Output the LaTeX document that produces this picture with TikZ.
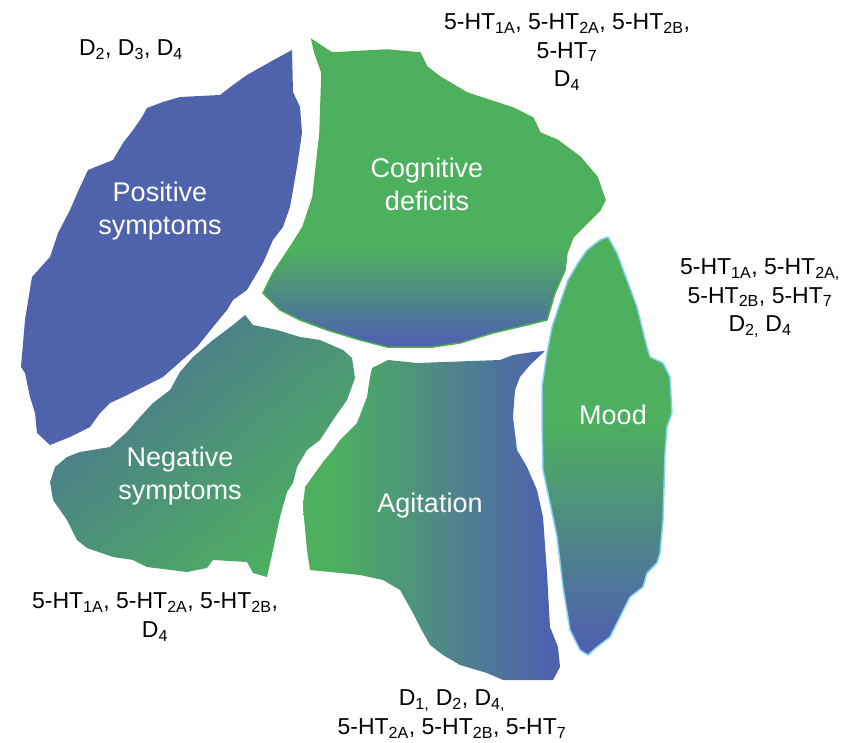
\documentclass[tikz,border=0pt]{standalone}
\usepackage{fontspec}
\setmainfont{Liberation Sans}
\definecolor{psyblue}{HTML}{4F63AD}
\definecolor{psygreen}{HTML}{4DB05E}
\definecolor{negteal}{HTML}{4C7494}
\definecolor{cogline}{HTML}{4CB050}
\definecolor{moodline}{HTML}{86D2F4}
\pgfdeclareverticalshading{cogshade}{100bp}{color(0bp)=(psyblue); color(26bp)=(psyblue); color(41bp)=(psygreen); color(100bp)=(psygreen)}
\pgfdeclareverticalshading{moodshade}{100bp}{color(0bp)=(psyblue); color(27bp)=(psyblue); color(53bp)=(psygreen); color(100bp)=(psygreen)}
\pgfdeclarehorizontalshading{agishade}{100bp}{color(0bp)=(psygreen); color(31bp)=(psygreen); color(72bp)=(psyblue); color(100bp)=(psyblue)}
\newcommand{\rsub}[1]{\textsubscript{#1}}
\tikzset{
	wlabel/.style={text=white, align=center, inner sep=0pt, font=\fontsize{27}{33}\selectfont},
	rlabel/.style={text=black, align=center, inner sep=0pt, font=\fontsize{23}{28.5}\selectfont}
}
\begin{document}
\begin{tikzpicture}[x=1pt,y=-1pt]%vùng
	\useasboundingbox (0,0) rectangle (851,743);
	%Positive
	\fill[psyblue] (292,50)--(270,62)--(247,75)--(233,85)--(220,95)--(180,97)--(163,102)--(147,108)--(142,117)--(133,130)--(123,143)--(113,160)--(88,170)--(80,187)--(70,210)--(58,233)--(50,257)--(40,268)--(32,277)--(25,320)--(21,367)--(25,373)--(30,397)--(35,413)--(37,433)--(50,445)--(70,437)--(90,427)--(100,413)--(110,403)--(123,397)--(143,387)--(163,377)--(180,362)--(197,347)--(213,327)--(227,310)--(233,300)--(247,290)--(263,263)--(273,240)--(283,227)--(290,207)--(297,167)--(302,133)--(300,107)--(293,92)--cycle;
	%Cognitive
	\shade[shading=cogshade, draw=cogline, line width=1.5pt] (312,40)--(332,53)--(387,50)--(420,53)--(427,67)--(440,77)--(467,93)--(513,108)--(533,118)--(540,133)--(557,140)--(580,157)--(597,177)--(605,200)--(600,210)--(587,223)--(573,237)--(567,253)--(565,270)--(555,293)--(547,320)--(527,325)--(493,333)--(460,343)--(433,347)--(387,347)--(360,340)--(327,330)--(300,320)--(280,310)--(263,293)--(273,273)--(293,243)--(303,227)--(313,197)--(320,133)--(322,73)--(315,53)--cycle;
	%Negative
	\shade[top color=negteal, bottom color=psygreen, shading angle=40] (245,315)--(253,325)--(277,330)--(300,337)--(320,340)--(343,350)--(352,358)--(355,378)--(347,400)--(333,420)--(320,440)--(307,450)--(297,467)--(293,483)--(287,492)--(280,517)--(273,550)--(267,577)--(253,573)--(247,562)--(213,560)--(207,568)--(187,572)--(147,567)--(133,560)--(113,557)--(87,548)--(77,540)--(67,520)--(53,500)--(50,482)--(55,467)--(67,457)--(80,452)--(110,447)--(127,432)--(140,417)--(153,403)--(170,390)--(180,372)--(193,357)--(213,340)--(233,325)--cycle;
	%Agitation
	\shade[shading=agishade] (372,368)--(388,360)--(417,363)--(500,360)--(513,355)--(533,352)--(545,351)--(530,365)--(520,377)--(515,390)--(513,417)--(517,450)--(527,467)--(537,490)--(543,517)--(547,573)--(550,627)--(558,647)--(560,667)--(553,680)--(503,680)--(487,673)--(460,665)--(443,655)--(430,645)--(420,627)--(413,613)--(400,590)--(383,580)--(360,575)--(310,570)--(307,550)--(303,507)--(305,487)--(323,462)--(333,450)--(340,440)--(357,423)--(367,397)--(370,377)--cycle;
	%Mood
	\shade[shading=moodshade, draw=moodline, line width=1.5pt] (608,237)--(617,253)--(627,280)--(637,307)--(647,347)--(650,357)--(663,363)--(670,377)--(672,413)--(667,427)--(665,453)--(663,520)--(660,553)--(657,563)--(647,573)--(643,587)--(630,597)--(620,617)--(610,637)--(597,647)--(588,655)--(580,650)--(570,630)--(563,587)--(557,537)--(550,503)--(543,470)--(542,420)--(542,387)--(547,353)--(552,327)--(560,303)--(568,280)--(578,263)--(587,250)--(600,240)--cycle;
	\foreach \n/\x/\y/\t in {pos/160/211/{Positive\\symptoms}, cog/427/184/{Cognitive\\deficits}, neg/180/476/{Negative\\symptoms}, agi/430/506/{Agitation}, mood/613/415/{Mood}}
	\node[wlabel] (\n) at (\x,\y) {\t};
	%Rezeptoren
	\node[rlabel] (recpos) at (131,50) {D\rsub{2}, D\rsub{3}, D\rsub{4}};
	\node[rlabel] (reccog) at (567,52) {5-HT\rsub{1A}, 5-HT\rsub{2A}, 5-HT\rsub{2B},\\5-HT\rsub{7}\\D\rsub{4}};
	\node[rlabel] (recmood) at (760,298) {5-HT\rsub{1A}, 5-HT\rsub{2A,}\\5-HT\rsub{2B}, 5-HT\rsub{7}\\D\rsub{2,} D\rsub{4}};
	\node[rlabel] (recneg) at (155,617) {5-HT\rsub{1A}, 5-HT\rsub{2A}, 5-HT\rsub{2B},\\D\rsub{4}};
	\node[rlabel] (recagi) at (452,714) {D\rsub{1,} D\rsub{2}, D\rsub{4,}\\5-HT\rsub{2A}, 5-HT\rsub{2B}, 5-HT\rsub{7}};
\end{tikzpicture}
\end{document}
